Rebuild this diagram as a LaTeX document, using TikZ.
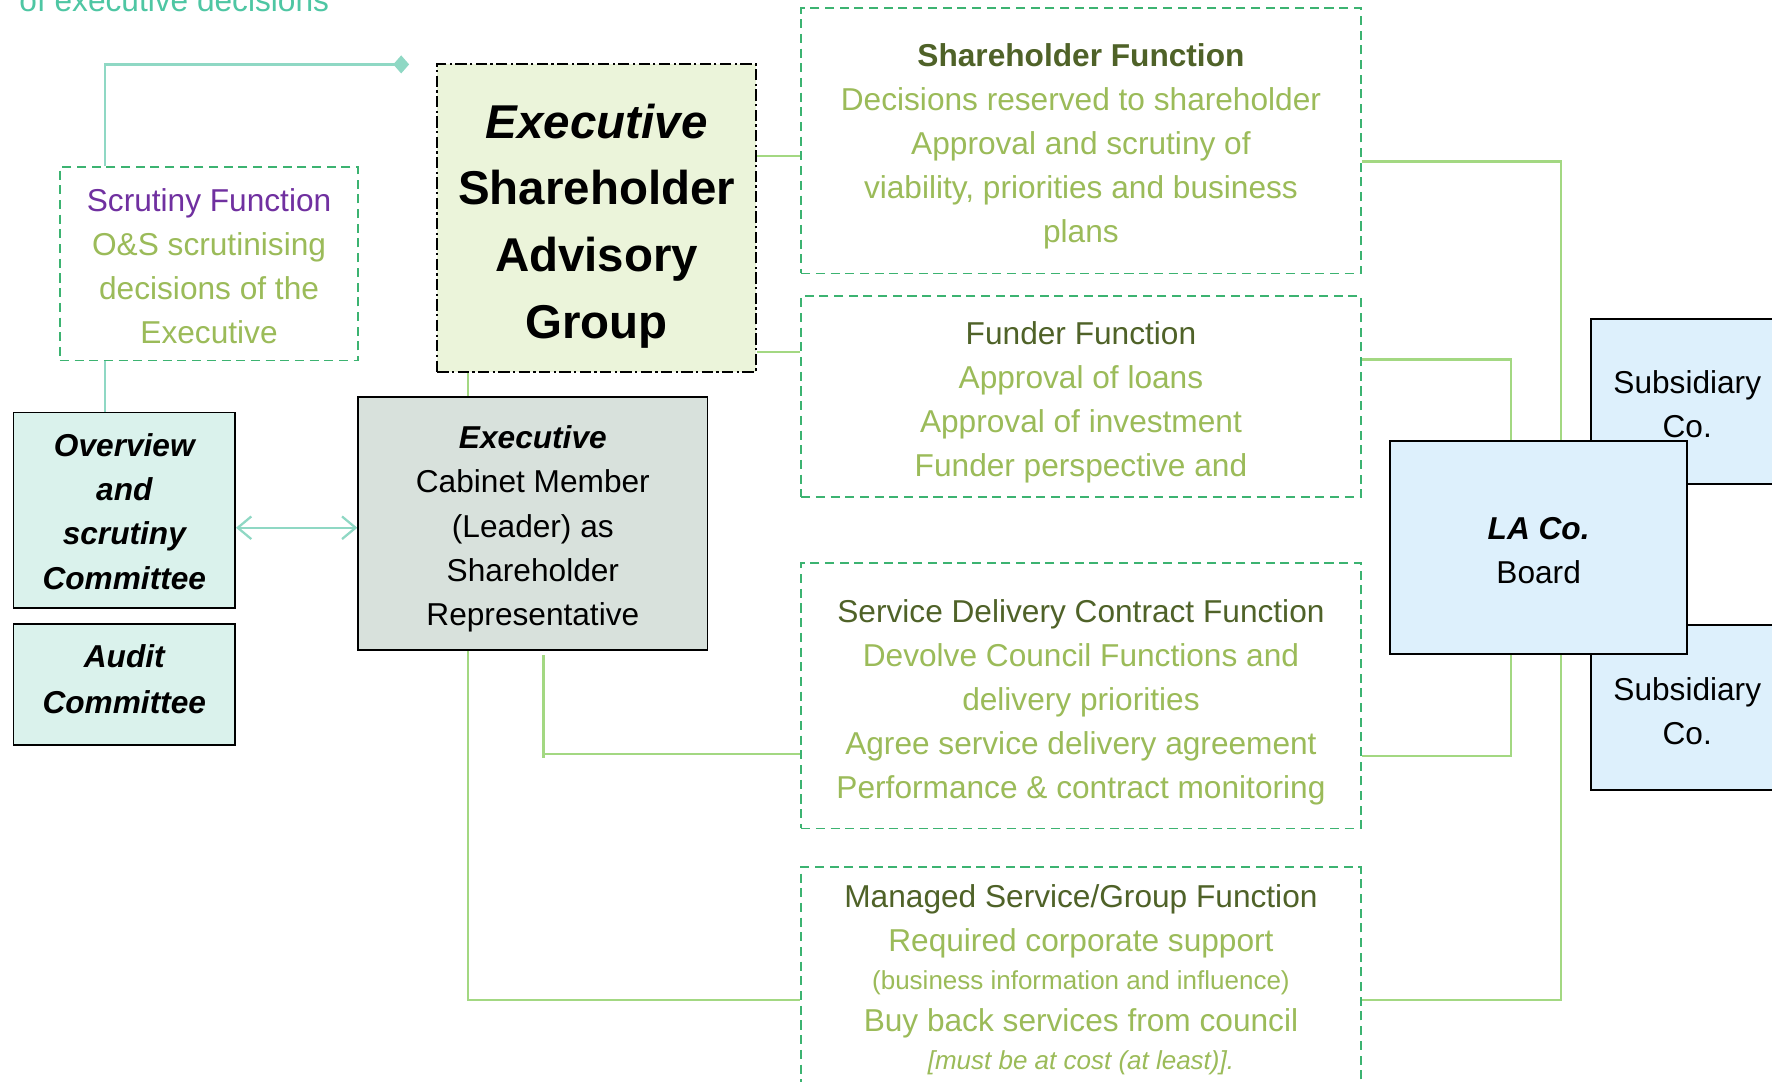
\documentclass[tikz,border=0pt]{standalone}
\usepackage{fontspec}
\setmainfont{Liberation Sans}
\usetikzlibrary{arrows.meta,calc}
\pgfdeclarelayer{bg}
\pgfsetlayers{bg,main}
\definecolor{cTeal}{HTML}{8FD8C4}
\definecolor{cTealTxt}{HTML}{4EC6A3}
\definecolor{cGLine}{HTML}{A3D882}
\definecolor{cDash}{HTML}{3CB371}
\definecolor{cGTxt}{HTML}{9BBB59}
\definecolor{cDark}{HTML}{4F6228}
\definecolor{cPurple}{HTML}{7030A0}
\definecolor{cEsag}{HTML}{EBF4DA}
\definecolor{cExec}{HTML}{D8E1DC}
\definecolor{cOver}{HTML}{DAF2EC}
\definecolor{cLA}{HTML}{DDF0FC}
\begin{document}
\begin{tikzpicture}[x=1pt,y=-1pt,
  basefont/.style={font=\fontsize{28}{39}\selectfont},
  dbox/.style={draw=cDash, line width=1.5pt, dash pattern=on 8pt off 5pt, inner sep=0pt},
  sbox/.style={draw=black, line width=1.6pt, inner sep=0pt},
  gtext/.style={align=center, inner sep=0pt, text=cGTxt, basefont},
  btext/.style={align=center, inner sep=0pt, text=black, basefont},
  tline/.style={draw=cTeal, line width=2pt},
  gline/.style={draw=cGLine, line width=2pt}]
\path[use as bounding box, clip] (0,0) rectangle (1568,957);

% top text
\node[anchor=base west, inner sep=0pt, text=cTealTxt, basefont] (toptxt) at (17,10) {of executive decisions};

% middle column function boxes
\node[dbox, minimum width=495, minimum height=235] (share) at (956.5,124.5) {};
\node[gtext, yshift=-5pt] (shareT) at (share.center)
  {\textbf{\color{cDark}Shareholder Function}\\Decisions reserved to shareholder\\Approval and scrutiny of\\viability, priorities and business\\plans};
\node[dbox, minimum width=495, minimum height=178] (funder) at (956.5,351) {};
\node[gtext, yshift=-5pt] (funderT) at (funder.center)
  {{\color{cDark}Funder Function}\\Approval of loans\\Approval of investment\\Funder perspective and};
\node[dbox, minimum width=495, minimum height=235] (service) at (956.5,615.5) {};
\node[gtext, yshift=-6pt] (serviceT) at (service.center)
  {{\color{cDark}Service Delivery Contract Function}\\Devolve Council Functions and\\delivery priorities\\Agree service delivery agreement\\Performance \& contract monitoring};
\node[dbox, minimum width=495, minimum height=200] (managed) at (956.5,867) {};
\node[gtext] (managedT) at (managed.center)
  {{\color{cDark}Managed Service/Group Function}\\Required corporate support\\[-5pt]
   {\fontsize{23}{30}\selectfont (business information and influence)}\\[-2pt]
   Buy back services from council\\[-5pt]
   {\fontsize{23}{30}\selectfont\itshape [must be at cost (at least)].}};

% left side
\node[dbox, minimum width=264, minimum height=171] (scrut) at (185,233.5) {};
\node[gtext, yshift=-2pt] (scrutT) at (scrut.center)
  {{\color{cPurple}Scrutiny Function}\\O\&S scrutinising\\decisions of the\\Executive};
\node[sbox, fill=cEsag, line width=1.8pt, dash pattern=on 10pt off 3pt on 2pt off 3pt,
  minimum width=282, minimum height=272] (esag) at (528,193) {};
\node[btext, yshift=-7pt, font=\fontsize{42}{59}\selectfont\bfseries] (esagT) at (esag.center)
  {\textit{Executive}\\Shareholder\\Advisory\\Group};
\node[sbox, fill=cExec, minimum width=309, minimum height=224] (exec) at (471.5,463) {};
\node[btext, yshift=-5pt] (execT) at (exec.center)
  {\textbf{\textit{Executive}}\\Cabinet Member\\(Leader) as\\Shareholder\\Representative};
\node[sbox, fill=cOver, minimum width=196, minimum height=173] (over) at (110,451.5) {};
\node[btext, yshift=-1pt, font=\fontsize{28}{39.3}\selectfont\bfseries\itshape] (overT) at (over.center)
  {Overview\\and\\scrutiny\\Committee};
\node[sbox, fill=cOver, minimum width=196, minimum height=107] (audit) at (110,605.5) {};
\node[btext, yshift=4.5pt, font=\fontsize{28}{40}\selectfont\bfseries\itshape] (auditT) at (audit.center)
  {Audit\\Committee};

% right side
\node[sbox, fill=cLA, minimum width=170, minimum height=146] (sub1) at (1493,355) {};
\node[btext, yshift=-3pt] (sub1T) at (sub1.center) {Subsidiary\\Co.};
\node[sbox, fill=cLA, minimum width=170, minimum height=146] (sub2) at (1493,626) {};
\node[btext, yshift=-3pt] (sub2T) at (sub2.center) {Subsidiary\\Co.};
\node[sbox, fill=cLA, minimum width=263, minimum height=189] (la) at (1361.5,484.5) {};
\node[btext, yshift=-3pt] (laT) at (la.center) {\textbf{\textit{LA Co.}}\\Board};

\begin{pgfonlayer}{bg}
\fill[white] (0,0) rectangle (1568,957);
% teal connectors
\coordinate (tl) at (93,57);
\coordinate (dia) at (362,57);
\draw[tline, -{Diamond[length=14pt,width=16pt,fill=cTeal]}] (scrut.north -| tl) -- (tl) -- (dia);
\draw[tline] (scrut.south -| tl) -- (over.north -| tl);
\coordinate (ay) at (0,467);
\draw[tline, {Straight Barb[length=12pt,width=20pt]}-{Straight Barb[length=12pt,width=20pt]}] (over.east |- ay) -- (exec.west |- ay);
% green connectors left
\coordinate (gx) at (414,0);
\coordinate (my) at (0,885);
\draw[gline] (esag.south -| gx) -- (exec.north -| gx);
\draw[gline] (exec.south -| gx) |- (managed.west |- my);
\coordinate (g2a) at (481,580);
\coordinate (g2b) at (481,667);
\coordinate (g2c) at (481,671);
\draw[gline] (g2a) -- (g2c) (g2b) -- (service.west |- g2b);
\coordinate (y1) at (0,138);
\coordinate (y2) at (0,311.5);
\draw[gline] (esag.east |- y1) -- (share.west |- y1);
\draw[gline] (esag.east |- y2) -- (funder.west |- y2);
% green connectors right
\coordinate (rx) at (1381,0);
\coordinate (lx) at (1337,0);
\coordinate (y3) at (0,143);
\coordinate (y4) at (0,318);
\coordinate (y5) at (0,669);
\draw[gline] (share.east |- y3) -| (rx |- my) -- (managed.east |- my);
\draw[gline] (funder.east |- y4) -| (la.north -| lx);
\draw[gline] (service.east |- y5) -| (la.south -| lx);
\end{pgfonlayer}
\end{tikzpicture}
\end{document}
